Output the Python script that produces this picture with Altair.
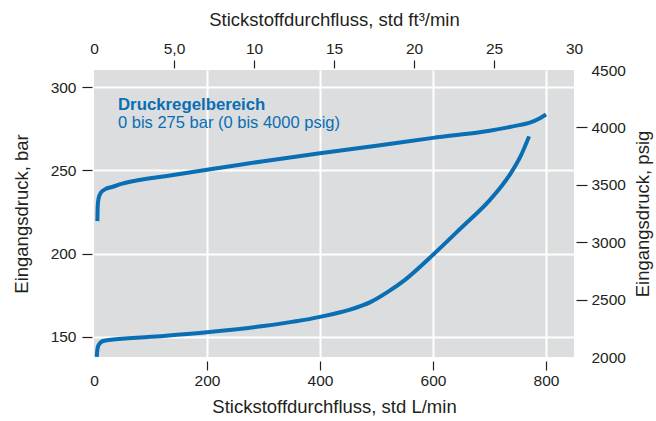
import altair as alt
import pandas as pd

L_PER_FT3 = 28.3168      # litres per cubic foot
PSIG_PER_BAR = 14.5038   # psig per bar

FONT = "Liberation Sans"
INK = "#231f20"
BLUE = "#0a6eb4"

# Upper curve: inlet pressure (bar) vs. nitrogen flow (std L/min)
upper_flow = [6, 6.5, 8, 12, 20, 32, 50, 77, 126, 200, 300, 400, 500,
              600, 700, 750, 770, 790, 800]
upper_bar = [219.5, 228, 233, 236.5, 238.7, 240, 242, 244, 246.5, 250.3,
             255.5, 260.3, 264.8, 269.5, 273.8, 277, 278.5, 281.5, 283.5]

# Lower curve
lower_flow = [5, 5.5, 7, 10, 16, 30, 100, 200, 300, 400, 450, 490, 520,
              551, 601, 650, 700, 720, 738, 755, 770]
lower_bar = [138, 141, 144, 146, 147.5, 148.3, 150, 152.8, 156.5, 162,
             166, 171, 177, 184.4, 199.6, 215.5, 232, 240, 248.5, 258.5, 270.4]

# Axis tick values
flow_ticks = [0, 200, 400, 600, 800]
bar_ticks = [150, 200, 250, 300]
ft3_ticks = [0, 5, 10, 15, 20, 25, 30]
psig_ticks = [2000, 2500, 3000, 3500, 4000, 4500]

flow_max_ft3 = 30
psig_min, psig_max = 2000, 4500

df = pd.DataFrame({
    "flow": upper_flow + lower_flow,
    "bar": upper_bar + lower_bar,
    "curve": ["upper"] * len(upper_flow) + ["lower"] * len(lower_flow),
})


def hide_at(values):
    test = " || ".join(f"datum.value == {v}" for v in values)
    return {"condition": {"test": test, "value": 0}, "value": 1}


label_style = dict(labelFont=FONT, labelFontSize=15.5, labelColor=INK,
                   titleFont=FONT, titleFontSize=18.5, titleColor=INK,
                   titleFontWeight="normal", domain=False,
                   tickColor=INK, tickWidth=1.2)

x_bottom = alt.X(
    "flow:Q",
    scale=alt.Scale(domain=[0, flow_max_ft3 * L_PER_FT3], nice=False, zero=False),
    axis=alt.Axis(orient="bottom", values=flow_ticks,
                  title="Stickstoffdurchfluss, std L/min",
                  offset=4, tickSize=9, labelPadding=3, labelFlush=False,
                  tickOpacity=hide_at([0]), titlePadding=9,
                  grid=True, gridColor="white", gridWidth=2,
                  gridOpacity=hide_at([0]), **label_style),
)
y_left = alt.Y(
    "bar:Q",
    scale=alt.Scale(domain=[psig_min / PSIG_PER_BAR, psig_max / PSIG_PER_BAR],
                    nice=False, zero=False),
    axis=alt.Axis(orient="left", values=bar_ticks,
                  title="Eingangsdruck, bar",
                  offset=2, tickSize=10, labelPadding=6, labelFlush=False,
                  titlePadding=19,
                  grid=True, gridColor="white", gridWidth=2, **label_style),
)

curves = alt.Chart(df).mark_line(
    color=BLUE, strokeWidth=4, interpolate="monotone"
).encode(x=x_bottom, y=y_left, detail="curve:N")

heading = alt.Chart(pd.DataFrame({"t": ["Druckregelbereich"]})).mark_text(
    align="left", baseline="alphabetic", font=FONT, fontSize=16.8,
    fontWeight="bold", color=BLUE
).encode(x=alt.value(24), y=alt.value(40), text="t:N")

subheading = alt.Chart(pd.DataFrame({"t": ["0 bis 275 bar (0 bis 4000 psig)"]})).mark_text(
    align="left", baseline="alphabetic", font=FONT, fontSize=16.5, color=BLUE
).encode(x=alt.value(24), y=alt.value(58), text="t:N")

primary = alt.layer(curves, heading, subheading)

# Same curves in imperial units, drawn invisibly to carry the top and right axes
secondary = alt.Chart(df).transform_calculate(
    ft3=f"datum.flow / {L_PER_FT3}",
    psig=f"datum.bar * {PSIG_PER_BAR}",
).mark_line(opacity=0).encode(
    x=alt.X("ft3:Q",
            scale=alt.Scale(domain=[0, flow_max_ft3], nice=False, zero=False),
            axis=alt.Axis(orient="top", values=ft3_ticks,
                          title="Stickstoffdurchfluss, std ft³/min",
                          labelExpr="datum.value == 5 ? '5,0' : datum.label",
                          offset=2, tickSize=8, labelPadding=4, labelFlush=False,
                          tickOpacity=hide_at([0, 30]), titlePadding=12,
                          grid=False, **label_style)),
    y=alt.Y("psig:Q",
            scale=alt.Scale(domain=[psig_min, psig_max], nice=False, zero=False),
            axis=alt.Axis(orient="right", values=psig_ticks, format="d",
                          title="Eingangsdruck, psig", titleAngle=270,
                          titleBaseline="top",
                          offset=2, tickSize=11, labelPadding=4, labelFlush=False,
                          tickOpacity=hide_at([2000, 4500]), titlePadding=8,
                          grid=False, **label_style)),
    detail="curve:N",
)

chart = alt.layer(primary, secondary).resolve_scale(
    x="independent", y="independent"
).properties(
    width=480, height=287,
    autosize=alt.AutoSizeParams(type="none"),
    padding={"left": 94, "top": 70, "right": 82, "bottom": 64},
    background="white",
).configure_view(fill="#dcdddf", strokeWidth=0)

chart.save("out.html", embed_options={"renderer": "svg", "actions": False})
